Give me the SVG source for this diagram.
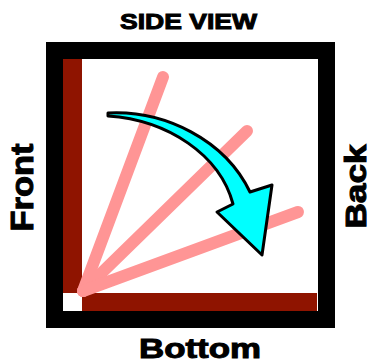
<svg xmlns="http://www.w3.org/2000/svg" width="373" height="364" viewBox="0 0 373 364">
  <style>
    .lbl { font-family: "Liberation Sans", Arial, sans-serif; font-weight: 900; fill: #000; stroke: #000; stroke-width: 1; text-anchor: middle; }
    .ray { stroke: #ff9595; stroke-width: 12; stroke-linecap: round; fill: none; }
    .bar { fill: #8f1400; }
  </style>
  <rect width="373" height="364" fill="#ffffff"/>
  <g id="frame">
    <rect x="54.5" y="50.5" width="272" height="269" fill="#ffffff" stroke="#000000" stroke-width="17"/>
    <rect class="bar" x="63" y="59" width="19" height="234"/>
    <rect class="bar" x="82" y="293" width="235" height="18"/>
  </g>
  <g id="rays">
    <line class="ray" x1="83" y1="291" x2="163" y2="77"/>
    <line class="ray" x1="83" y1="291" x2="247" y2="131"/>
    <line class="ray" x1="83" y1="291" x2="298" y2="212"/>
  </g>
  <g id="arrow">
    <path d="M108,113 C165,110 225,140 250,192 L272,185 L262,255 L217,212 L233,204 C220,155 168,120 108,116 Z" fill="#00ffff" stroke="#000000" stroke-width="3" stroke-linejoin="round"/>
  </g>
  <g id="labels">
    <text class="lbl" x="188.5" y="29" font-size="22" textLength="137" lengthAdjust="spacingAndGlyphs">SIDE VIEW</text>
    <text class="lbl" x="200" y="358" font-size="28" textLength="122" lengthAdjust="spacingAndGlyphs">Bottom</text>
    <text class="lbl" transform="translate(33,187.5) rotate(-90)" font-size="32" textLength="88" lengthAdjust="spacingAndGlyphs">Front</text>
    <text class="lbl" transform="translate(366,186.5) rotate(-90)" font-size="29" textLength="84" lengthAdjust="spacingAndGlyphs">Back</text>
  </g>
</svg>
